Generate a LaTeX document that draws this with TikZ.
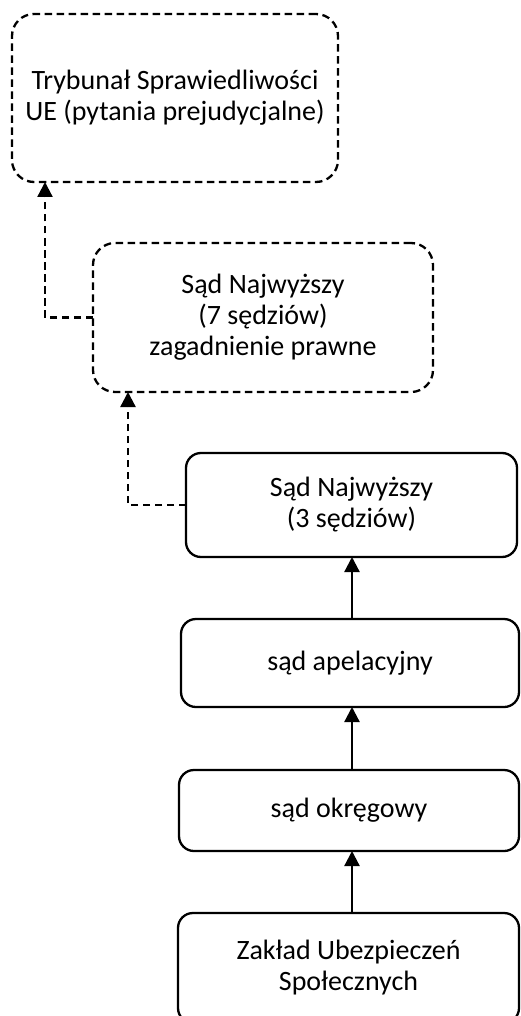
\documentclass[tikz,border=0pt]{standalone}
\usepackage{fontspec}
\setmainfont{Carlito}
\usetikzlibrary{arrows.meta,calc}
\begin{document}
\begin{tikzpicture}[x=1pt,y=-1pt,
  box/.style={draw=black, line width=2.3pt, rectangle, inner sep=0pt, outer sep=0pt,
    align=center, font=\fontsize{28}{31}\selectfont, text=black},
  solidbox/.style={box, rounded corners=15pt},
  dashbox/.style={box, rounded corners=22pt, dash pattern=on 7.5pt off 4.5pt},
  arr/.style={draw=black, line width=2.3pt, -{Triangle[length=15pt,width=15pt]}},
  darr/.style={arr, dash pattern=on 7.5pt off 4.5pt}]
\useasboundingbox (0,0) rectangle (520,1016);
\fill[white] (0,0) rectangle (520,1016);

\node[dashbox, minimum width=326pt, minimum height=168pt] (b1) at (175,98)
  {Trybunał Sprawiedliwości\\UE (pytania prejudycjalne)};
\node[dashbox, minimum width=340pt, minimum height=149pt] (b2) at (263,317.5)
  {Sąd Najwyższy\\(7 sędziów)\\zagadnienie prawne};
\node[solidbox, minimum width=331pt, minimum height=104pt] (b3) at (351.5,505)
  {Sąd Najwyższy\\(3 sędziów)};
\node[solidbox, minimum width=338pt, minimum height=88pt] (b4) at (350,663)
  {sąd apelacyjny};
\node[solidbox, minimum width=340pt, minimum height=81pt] (b5) at (349,810.5)
  {sąd okręgowy};
\node[solidbox, minimum width=341pt, minimum height=110pt] (b6) at (348.5,968)
  {Zakład Ubezpieczeń\\Społecznych};

\coordinate (ax) at (352,0);
\coordinate (d1) at ($(b1.south west)+(33,0)$);
\coordinate (d2) at ($(b2.south west)+(35,0)$);

\draw[arr] (b6.north -| ax) -- (b5.south -| ax);
\draw[arr] (b5.north -| ax) -- (b4.south -| ax);
\draw[arr] (b4.north -| ax) -- (b3.south -| ax);
\draw[darr] (b3.west) -| (d2);
\draw[darr] (b2.west) -| (d1);
\end{tikzpicture}
\end{document}
